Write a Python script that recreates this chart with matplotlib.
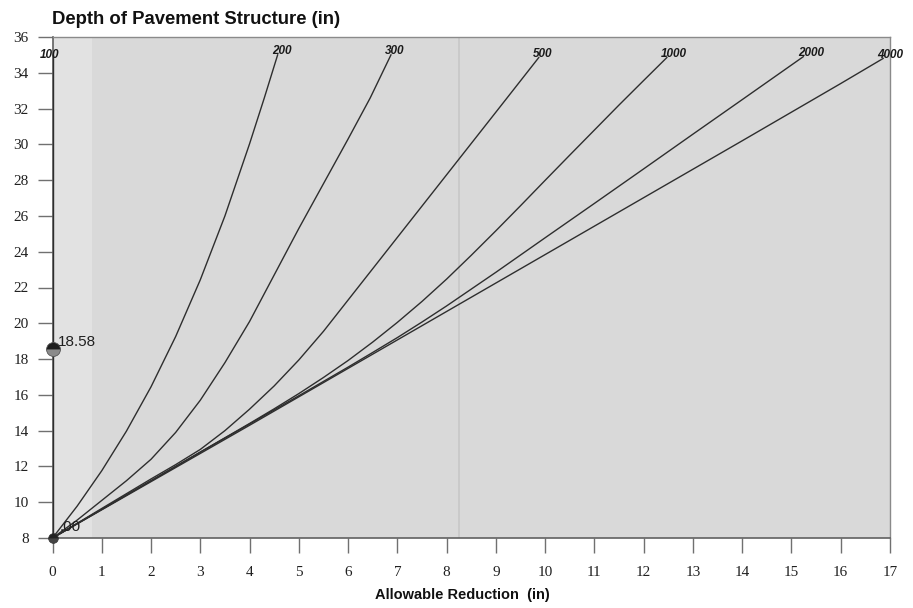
import matplotlib
matplotlib.use("Agg")
import matplotlib.pyplot as plt

# ---------------- data ----------------
curve_labels = ['100', '200', '300', '500', '1000', '2000', '4000']

x_100 = [0, 0]
y_100 = [8, 35]

x_200 = [0, 0.5, 1.0, 1.5, 2.0, 2.5, 3.0, 3.5, 4.0, 4.3, 4.57]
y_200 = [8, 9.78, 11.76, 13.97, 16.45, 19.26, 22.43, 26.0, 30.03, 32.6, 35.0]

x_300 = [0, 0.5, 1.0, 1.5, 2.0, 2.5, 3.0, 3.5, 4.0, 4.5, 5.0, 5.5, 6.0, 6.45, 6.87]
y_300 = [8, 9.0, 10.1, 11.2, 12.4, 13.9, 15.7, 17.8, 20.1, 22.7, 25.3, 27.8, 30.3, 32.6, 35.0]

x_500 = [0, 0.5, 1, 2, 2.5, 3, 3.5, 4, 4.5, 5, 5.5, 6, 6.5, 7, 7.5, 8, 8.5, 9, 9.87]
y_500 = [8, 8.82, 9.65, 11.3, 12.1, 12.95, 14.0, 15.2, 16.5, 17.95, 19.55, 21.3,
         23.05, 24.8, 26.55, 28.3, 30.05, 31.8, 34.85]

x_1000 = [0, 1, 2, 3, 4, 4.5, 5, 5.5, 6, 6.5, 7, 7.5, 8, 8.5, 9, 9.5, 10, 10.5,
          11, 11.5, 12, 12.47]
y_1000 = [8, 9.6, 11.2, 12.8, 14.4, 15.22, 16.07, 16.97, 17.92, 18.95, 20.05, 21.22,
          22.47, 23.8, 25.17, 26.57, 27.99, 29.4, 30.8, 32.2, 33.57, 34.85]

x_2000 = [0, 1, 2, 3, 4, 5, 6, 6.5, 7, 7.5, 8, 9, 10, 11, 12, 13, 14, 15.24]
y_2000 = [8, 9.6, 11.2, 12.8, 14.37, 15.95, 17.55, 18.37, 19.2, 20.07, 20.97, 22.85,
          24.78, 26.7, 28.63, 30.57, 32.5, 34.9]

x_4000 = [0, 2, 4, 6, 8, 10, 12, 14, 16, 16.86]
y_4000 = [8, 11.15, 14.3, 17.48, 20.66, 23.84, 27.02, 30.2, 33.4, 34.8]

marker_x = [0, 0]
marker_y = [18.58, 8.0]
marker_text = ['18.58', '.00']

x_ticks = list(range(0, 18))
y_ticks = list(range(8, 37, 2))

title_text = 'Depth of Pavement Structure (in)'
xlabel_text = 'Allowable Reduction  (in)'

# ---------------- figure ----------------
fig = plt.figure(figsize=(9.13, 6.08), dpi=100)
ax = fig.add_axes([52.5 / 913, 1 - 538 / 608, (890 - 52.5) / 913, (538 - 37) / 608])
ax.set_facecolor('#d9d9d9')
ax.set_xlim(0, 17)
ax.set_ylim(8, 36)

# scan-like lighter strip on the left and faint vertical line
ax.axvspan(0, 0.8, color='#e2e2e2', lw=0, zorder=0)
ax.axvline(8.25, color='#c8c8c8', lw=1.2, zorder=0.5)

series = [(x_100, y_100), (x_200, y_200), (x_300, y_300), (x_500, y_500),
          (x_1000, y_1000), (x_2000, y_2000), (x_4000, y_4000)]
label_dx = [-9, -4, -4, -4, -4, -4, -4]
label_dy = [0, 2.5, 2.5, 2.5, 2.5, 2.5, 2.5]
for (xs, ys), lab, dx, dy in zip(series, curve_labels, label_dx, label_dy):
    ax.plot(xs, ys, color='#2e2e2e', lw=1.0, zorder=3, clip_on=False,
            solid_joinstyle='round')
    ax.annotate(lab, (xs[-1], ys[-1]), xytext=(dx, dy), textcoords='offset points',
                ha='left', va='center', fontsize=8.5, fontweight='bold', style='italic',
                family='Liberation Sans', color='#1a1a1a', zorder=5,
                annotation_clip=False)

# markers
ax.plot(marker_x[:1], marker_y[:1], marker='o', markersize=10, fillstyle='top',
        markerfacecolor='#1c1c1c', markerfacecoloralt='#8a8a8a',
        markeredgecolor='#555555', markeredgewidth=0.6, clip_on=False, zorder=6)
ax.plot(marker_x[1:], marker_y[1:], marker='o', markersize=7, fillstyle='top',
        markerfacecolor='#222222', markerfacecoloralt='#444444',
        markeredgecolor='#333333', markeredgewidth=0.5, clip_on=False, zorder=6)
for mx, my, mt, dx, dy in zip(marker_x, marker_y, marker_text, [4, 5], [5, 8]):
    ax.annotate(mt, (mx, my), xytext=(dx, dy), textcoords='offset points',
                ha='left', va='center', fontsize=11, family='Liberation Sans',
                color='#202020', zorder=7, annotation_clip=False)

# axes styling
for s in ['left', 'bottom']:
    ax.spines[s].set_color('#606060')
    ax.spines[s].set_linewidth(1.2)
for s in ['top', 'right']:
    ax.spines[s].set_color('#8a8a8a')
    ax.spines[s].set_linewidth(1.0)

ax.set_xticks(x_ticks)
ax.set_yticks(y_ticks)
ax.set_xticklabels([str(v) for v in x_ticks], family='Liberation Serif', fontsize=11)
ax.set_yticklabels([str(v) for v in y_ticks], family='Liberation Serif', fontsize=11)
ax.tick_params(axis='x', direction='out', length=11, width=1, color='#707070', pad=9,
               labelcolor='#202020')
ax.tick_params(axis='y', direction='out', length=11, width=1, color='#707070', pad=6,
               labelcolor='#202020')

fig.text(52 / 913, 1 - 20 / 608, title_text, ha='left', va='center',
         fontsize=13.3, fontweight='bold', family='Liberation Sans', color='#111111')
fig.text(462 / 913, 1 - 595 / 608, xlabel_text, ha='center', va='center',
         fontsize=10.5, fontweight='bold', family='Liberation Sans', color='#111111')

fig.savefig('out.png', dpi=100, facecolor='white')
